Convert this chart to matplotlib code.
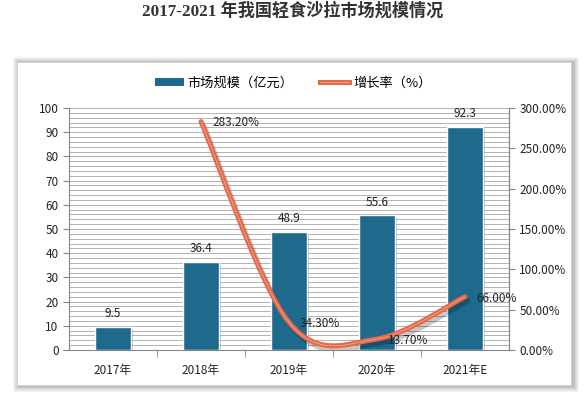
import matplotlib
matplotlib.use('Agg')
from matplotlib import pyplot as plt
import matplotlib.patheffects as pe
from matplotlib.path import Path
from matplotlib.patches import PathPatch, Rectangle, Patch
from matplotlib.lines import Line2D
from matplotlib.ticker import FuncFormatter, MultipleLocator

plt.rcParams['font.family'] = ['Noto Sans CJK SC', 'DejaVu Sans']

# 数据
years = ['2017年', '2018年', '2019年', '2020年', '2021年E']
market = [9.5, 36.4, 48.9, 55.6, 92.3]          # 市场规模（亿元）
growth_years = ['2018年', '2019年', '2020年', '2021年E']
growth = [283.2, 34.3, 13.7, 66.0]              # 增长率（%）

bar_color = '#1D6A8C'
line_color = '#E6674A'
stripe_color = '#F2A88E'


def smooth_path(xs, ys):
    # Excel 风格的平滑线 (Catmull-Rom -> 三次贝塞尔)
    pts = list(zip(xs, ys))
    verts = [pts[0]]
    codes = [Path.MOVETO]
    for i in range(len(pts) - 1):
        p0 = pts[i - 1] if i > 0 else pts[i]
        p1 = pts[i]
        p2 = pts[i + 1]
        p3 = pts[i + 2] if i + 2 < len(pts) else p2
        c1 = (p1[0] + (p2[0] - p0[0]) / 6, p1[1] + (p2[1] - p0[1]) / 6)
        c2 = (p2[0] - (p3[0] - p1[0]) / 6, p2[1] - (p3[1] - p1[1]) / 6)
        verts += [c1, c2, p2]
        codes += [Path.CURVE4] * 3
    return Path(verts, codes)


fig = plt.figure(figsize=(5.86, 3.93), dpi=100)
W, H = 586.0, 393.0

# 标题
fig.text(0.5, 1 - 11 / H, '2017-2021 年我国轻食沙拉市场规模情况', ha='center', va='center',
         fontsize=12.3, fontweight='bold', color='#333333',
         family=['Liberation Serif', 'Noto Sans CJK SC'])

# 图表外框 + 阴影
px0, py0, px1, py1 = 17, 62, 571, 385
for k, a in zip([6, 4, 2], [0.06, 0.09, 0.12]):
    fig.patches.append(Rectangle(((px0 - k + 2) / W, 1 - (py1 + k + 1) / H),
                                 (px1 - px0 + 2 * k) / W, (py1 - py0 + 2 * k) / H,
                                 transform=fig.transFigure, facecolor='#000000',
                                 edgecolor='none', alpha=a, zorder=-3))
fig.patches.append(Rectangle((px0 / W, 1 - py1 / H), (px1 - px0) / W, (py1 - py0) / H,
                             transform=fig.transFigure, facecolor='white',
                             edgecolor='#D0D0D0', lw=0.5, zorder=-2))

ax = fig.add_axes([69 / W, 1 - 350 / H, 440 / W, 242 / H])
ax.set_facecolor('none')
x = list(range(len(years)))

bars = ax.bar(x, market, width=0.4, color=bar_color, edgecolor='white', linewidth=1, zorder=3,
              path_effects=[pe.SimplePatchShadow(offset=(2, -2), alpha=0.25), pe.Normal()])
for xi, v in zip(x, market):
    ax.annotate(f'{v}', (xi, v), xytext=(0, 5), textcoords='offset points',
                ha='center', va='bottom', fontsize=8.5, color='#222222')

ax.set_xlim(-0.5, len(years) - 0.5)
ax.set_ylim(0, 100)
ax.yaxis.set_major_locator(MultipleLocator(10))
ax.yaxis.set_minor_locator(MultipleLocator(2))
ax.grid(axis='y', which='both', color='#B2B2B2', lw=0.7, zorder=0)
ax.set_axisbelow(True)

ax.set_xticks(x)
ax.set_xticklabels(years)
ax.set_xticks([i + 0.5 for i in x[:-1]], minor=True)
ax.tick_params(axis='x', which='major', length=0, pad=10, labelsize=8.5, colors='#222222')
ax.tick_params(axis='x', which='minor', length=5, color='#868686')
ax.tick_params(axis='y', which='major', length=4, labelsize=8.5, colors='#222222', color='#868686')
ax.tick_params(axis='y', which='minor', length=0)
ax.spines['top'].set_visible(False)
for s in ['left', 'bottom', 'right']:
    ax.spines[s].set_color('#868686')
    ax.spines[s].set_linewidth(0.8)

# 增长率 - 右轴
ax2 = ax.twinx()
ax2.set_ylim(0, 300)
ax2.yaxis.set_major_locator(MultipleLocator(50))
ax2.yaxis.set_major_formatter(FuncFormatter(lambda v, p: f'{v:.2f}%'))
ax2.tick_params(axis='y', length=4, labelsize=8.5, colors='#222222', color='#868686')
ax2.spines['top'].set_visible(False)
ax2.spines['right'].set_color('#868686')
ax2.spines['right'].set_linewidth(0.8)
ax2.spines['left'].set_visible(False)
ax2.spines['bottom'].set_visible(False)

gx = [years.index(y) for y in growth_years]
path = smooth_path(gx, growth)
ax2.add_patch(PathPatch(path, facecolor='none', edgecolor=line_color, lw=3.6, zorder=4,
                        capstyle='round',
                        path_effects=[pe.SimpleLineShadow(offset=(2, -3), alpha=0.22), pe.Normal()]))
ax2.add_patch(PathPatch(path, facecolor='none', edgecolor=stripe_color, lw=0.6, zorder=5))

for xi, v in zip(gx, growth):
    ax2.annotate(f'{v:.2f}%', (xi, v), xytext=(8, -1), textcoords='offset points',
                 ha='left', va='center', fontsize=8.5, color='#222222', zorder=6)

# 图例
h_bar = Patch(facecolor=bar_color, edgecolor='none')
h_line = Line2D([], [], color=line_color, lw=3.6,
                path_effects=[pe.Stroke(linewidth=3.6, foreground=line_color),
                              pe.Stroke(linewidth=0.6, foreground=stripe_color)])
fig.legend([h_bar, h_line], ['市场规模（亿元）', '增长率（%）'], loc='center',
           bbox_to_anchor=(0.5, 1 - 83 / H), ncol=2, frameon=False, fontsize=9.5,
           handlelength=2.2, handleheight=0.6, handletextpad=0.3, columnspacing=2.0)

fig.savefig('out.png', dpi=100)
